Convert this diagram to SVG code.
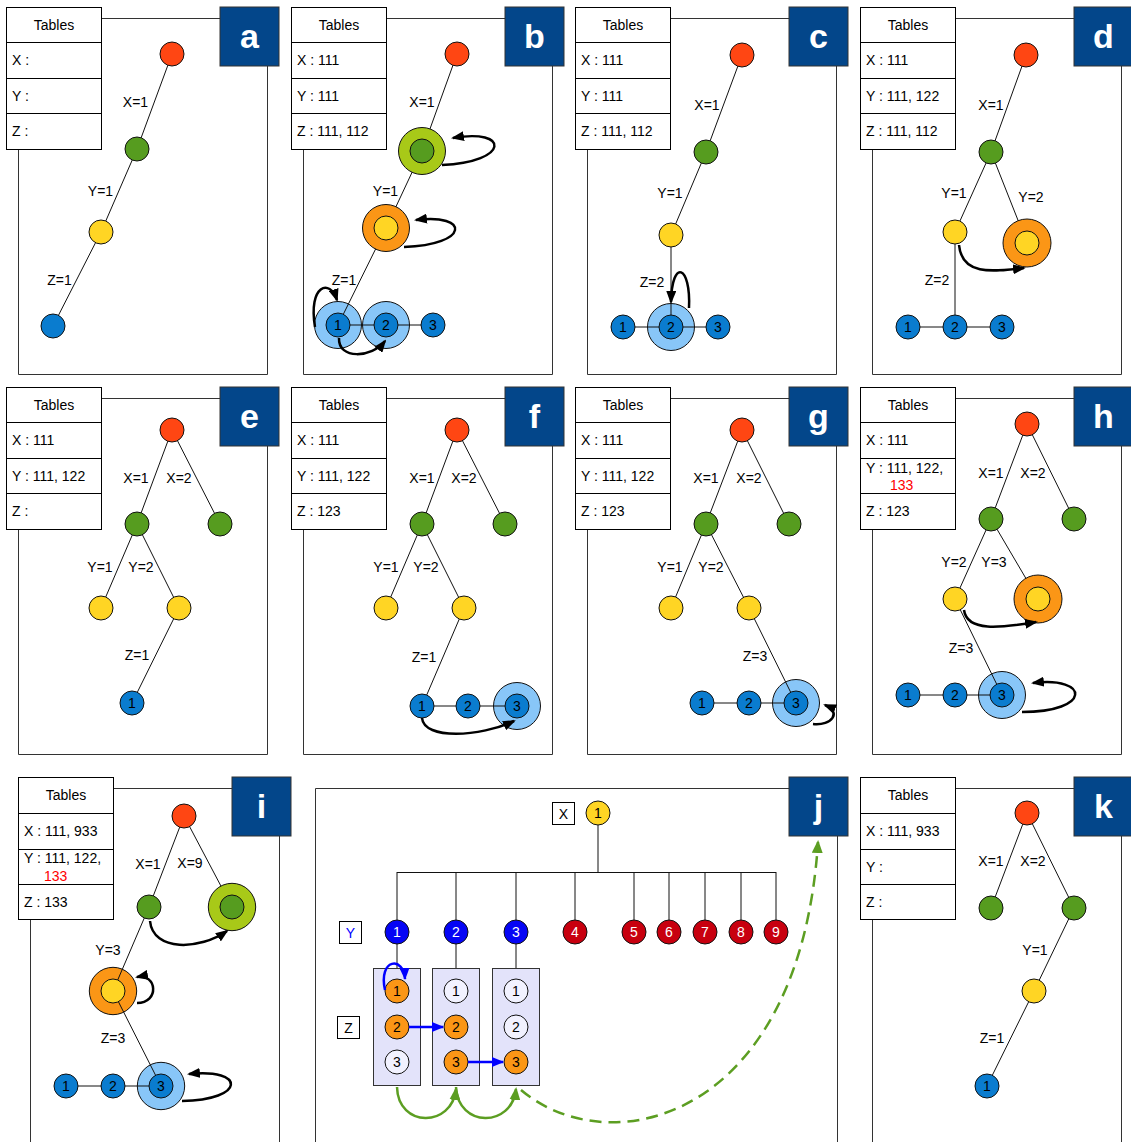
<svg xmlns="http://www.w3.org/2000/svg" width="1131" height="1142" viewBox="0 0 1131 1142">
<defs>
<style>
text{font-family:"Liberation Sans",Arial,sans-serif;font-size:14px;fill:#000}
.c{text-anchor:middle}
.fr{fill:none;stroke:#333;stroke-width:1}
.tb{fill:#fff;stroke:#000;stroke-width:1}
.tl{fill:none;stroke:#000;stroke-width:1}
.lb{fill:#03468a;stroke:#333;stroke-width:1}
.lt{fill:#fff;font-size:34px;font-weight:bold;text-anchor:middle}
.e{fill:none;stroke:#111;stroke-width:1}
.n{stroke:#111;stroke-width:1}
.red{fill:#ff4613}
.grn{fill:#569c1f}
.yel{fill:#ffd524}
.blu{fill:#0a7ccf}
.hb{fill:#88c6f8}
.ho{fill:#fb9616}
.hg{fill:#a8c918}
.wh{fill:#f2f2ff}
.yb{fill:#0505f5}
.yr{fill:#c8000f}
.col{fill:#e3e3fa;stroke:#333;stroke-width:1}
.a{fill:none;stroke:#000;stroke-width:2.5;marker-end:url(#ah)}
.ab{fill:none;stroke:#0000ff;stroke-width:2.5;marker-end:url(#ahb)}
.ag{fill:none;stroke:#5c9e22;stroke-width:2.5;marker-end:url(#ahg)}
.dash{stroke-dasharray:12 7}
.rd{fill:#ff0000}
.bl{fill:#0000ff}
.w{fill:#fff}
</style>
<marker id="ah" viewBox="0 0 13 10" refX="11" refY="5" markerWidth="13" markerHeight="10" markerUnits="userSpaceOnUse" orient="auto"><path d="M0,0L13,5L0,10z" fill="#000"/></marker>
<marker id="ahb" viewBox="0 0 12 10" refX="11" refY="5" markerWidth="12" markerHeight="10" markerUnits="userSpaceOnUse" orient="auto"><path d="M0,0L12,5L0,10z" fill="#0000ff"/></marker>
<marker id="ahg" viewBox="0 0 13 11" refX="11" refY="5.5" markerWidth="13" markerHeight="11" markerUnits="userSpaceOnUse" orient="auto"><path d="M0,0L13,5.5L0,11z" fill="#5c9e22"/></marker>
</defs>
<rect width="1131" height="1142" fill="#fff"/>

<!-- Panel a -->
<g id="panel-a">
 <path class="fr" d="M101 18.5H220M267.5 66V374.5H18.5V149"/>
 <g id="a-label"><rect class="lb" x="220" y="7" width="59" height="59"/><text class="lt" x="249.5" y="48">a</text></g>
 <g id="a-tables"><rect class="tb" x="6.5" y="7.5" width="95" height="142"/><path class="tl" d="M6.5 42.5H101.5M6.5 78.5H101.5M6.5 113.5H101.5"/><text class="c" x="54" y="30">Tables</text><text x="12" y="65">X :</text><text x="12" y="101">Y :</text><text x="12" y="136">Z :</text></g>
 <g id="a-connectors"><path class="e" d="M172 54L137 149M137 149L101 232M101 232L53 326"/><text class="c" x="135.5" y="107">X=1</text><text class="c" x="100.5" y="196">Y=1</text><text class="c" x="59.5" y="285">Z=1</text></g>
 <g id="a-root"><circle class="n red" cx="172" cy="54" r="12"/></g>
 <g id="a-x1"><circle class="n grn" cx="137" cy="149" r="12"/></g>
 <g id="a-y1"><circle class="n yel" cx="101" cy="232" r="12"/></g>
 <g id="a-z1"><circle class="n blu" cx="53" cy="326" r="12"/></g>
</g>

<!-- Panel b -->
<g id="panel-b">
 <path class="fr" d="M386 18.5H505M552.5 66V374.5H303.5V149"/>
 <g id="b-label"><rect class="lb" x="505" y="7" width="59" height="59"/><text class="lt" x="534.5" y="48">b</text></g>
 <g id="b-tables"><rect class="tb" x="291.5" y="7.5" width="95" height="142"/><path class="tl" d="M291.5 42.5H386.5M291.5 78.5H386.5M291.5 113.5H386.5"/><text class="c" x="339" y="30">Tables</text><text x="297" y="65">X : 111</text><text x="297" y="101">Y : 111</text><text x="297" y="136">Z : 111, 112</text></g>
 <g id="b-z1-ring"><circle class="n hb" cx="338" cy="325" r="23.5"/></g>
 <g id="b-z2-ring"><circle class="n hb" cx="386" cy="325" r="23.5"/></g>
 <g id="b-connectors"><path class="e" d="M457 54L422 151M422 151L386 228M386 228L338 325M338 325H433"/><text class="c" x="422" y="107">X=1</text><text class="c" x="385.5" y="196">Y=1</text><text class="c" x="344" y="285">Z=1</text></g>
 <g id="b-root"><circle class="n red" cx="457" cy="54" r="12"/></g>
 <g id="b-x1"><circle class="n hg" cx="422" cy="151" r="23.5"/><circle class="n grn" cx="422" cy="151" r="12"/></g>
 <g id="b-y1"><circle class="n ho" cx="386" cy="228" r="23.5"/><circle class="n yel" cx="386" cy="228" r="12"/></g>
 <g id="b-z1"><circle class="n blu" cx="338" cy="325" r="12"/><text class="c" x="338" y="330">1</text></g>
 <g id="b-z2"><circle class="n blu" cx="386" cy="325" r="12"/><text class="c" x="386" y="330">2</text></g>
 <g id="b-z3"><circle class="n blu" cx="433" cy="325" r="12"/><text class="c" x="433" y="330">3</text></g>
 <g id="b-arrows"><path class="a" d="M442 165C510 162 510 128 453 138"/><path class="a" d="M404 247C470 245 470 213 416 220"/><path class="a" d="M315 327C308 285 330 278 337 300"/><path class="a" d="M339 338C338 360 372 358 385 341"/></g>
</g>

<!-- Panel c -->
<g id="panel-c">
 <path class="fr" d="M670 18.5H789M836.5 66V374.5H587.5V149"/>
 <g id="c-label"><rect class="lb" x="789" y="7" width="59" height="59"/><text class="lt" x="818.5" y="48">c</text></g>
 <g id="c-tables"><rect class="tb" x="575.5" y="7.5" width="95" height="142"/><path class="tl" d="M575.5 42.5H670.5M575.5 78.5H670.5M575.5 113.5H670.5"/><text class="c" x="623" y="30">Tables</text><text x="581" y="65">X : 111</text><text x="581" y="101">Y : 111</text><text x="581" y="136">Z : 111, 112</text></g>
 <g id="c-z2-ring"><circle class="n hb" cx="671" cy="327" r="23.5"/></g>
 <g id="c-connectors"><path class="e" d="M742 55L706 152M706 152L671 235M671 235V327M623 327H718"/><text class="c" x="707" y="110">X=1</text><text class="c" x="670" y="198">Y=1</text><text class="c" x="652" y="287">Z=2</text></g>
 <g id="c-root"><circle class="n red" cx="742" cy="55" r="12"/></g>
 <g id="c-x1"><circle class="n grn" cx="706" cy="152" r="12"/></g>
 <g id="c-y1"><circle class="n yel" cx="671" cy="235" r="12"/></g>
 <g id="c-z1"><circle class="n blu" cx="623" cy="327" r="12"/><text class="c" x="623" y="332">1</text></g>
 <g id="c-z2"><circle class="n blu" cx="671" cy="327" r="12"/><text class="c" x="671" y="332">2</text></g>
 <g id="c-z3"><circle class="n blu" cx="718" cy="327" r="12"/><text class="c" x="718" y="332">3</text></g>
 <g id="c-arrows"><path class="a" d="M689 308C691 265 672 258 671 302"/></g>
</g>

<!-- Panel d -->
<g id="panel-d">
 <path class="fr" d="M955 18.5H1074M1121.5 66V374.5H872.5V149"/>
 <g id="d-label"><rect class="lb" x="1074" y="7" width="59" height="59"/><text class="lt" x="1103.5" y="48">d</text></g>
 <g id="d-tables"><rect class="tb" x="860.5" y="7.5" width="95" height="142"/><path class="tl" d="M860.5 42.5H955.5M860.5 78.5H955.5M860.5 113.5H955.5"/><text class="c" x="908" y="30">Tables</text><text x="866" y="65">X : 111</text><text x="866" y="101">Y : 111, 122</text><text x="866" y="136">Z : 111, 112</text></g>
 <g id="d-connectors"><path class="e" d="M1026 55L991 152M991 152L955 232M991 152L1027 243M955 232V327M908 327H1002"/><text class="c" x="991" y="110">X=1</text><text class="c" x="954" y="198">Y=1</text><text class="c" x="1031" y="202">Y=2</text><text class="c" x="937" y="285">Z=2</text></g>
 <g id="d-root"><circle class="n red" cx="1026" cy="55" r="12"/></g>
 <g id="d-x1"><circle class="n grn" cx="991" cy="152" r="12"/></g>
 <g id="d-y1"><circle class="n yel" cx="955" cy="232" r="12"/></g>
 <g id="d-y2"><circle class="n ho" cx="1027" cy="243" r="24"/><circle class="n yel" cx="1027" cy="243" r="12"/></g>
 <g id="d-z1"><circle class="n blu" cx="908" cy="327" r="12"/><text class="c" x="908" y="332">1</text></g>
 <g id="d-z2"><circle class="n blu" cx="955" cy="327" r="12"/><text class="c" x="955" y="332">2</text></g>
 <g id="d-z3"><circle class="n blu" cx="1002" cy="327" r="12"/><text class="c" x="1002" y="332">3</text></g>
 <g id="d-arrows"><path class="a" d="M959 245C962 275 990 272 1024 268"/></g>
</g>

<!-- Panel e -->
<g id="panel-e">
 <path class="fr" d="M101 398.5H220M267.5 446V754.5H18.5V529"/>
 <g id="e-label"><rect class="lb" x="220" y="387" width="59" height="59"/><text class="lt" x="249.5" y="428">e</text></g>
 <g id="e-tables"><rect class="tb" x="6.5" y="387.5" width="95" height="142"/><path class="tl" d="M6.5 422.5H101.5M6.5 458.5H101.5M6.5 493.5H101.5"/><text class="c" x="54" y="410">Tables</text><text x="12" y="445">X : 111</text><text x="12" y="481">Y : 111, 122</text><text x="12" y="516">Z :</text></g>
 <g id="e-connectors"><path class="e" d="M172 430L137 524M172 430L220 524M137 524L101 608M137 524L179 608M179 608L132 703"/><text class="c" x="136" y="483">X=1</text><text class="c" x="179" y="483">X=2</text><text class="c" x="100" y="572">Y=1</text><text class="c" x="141" y="572">Y=2</text><text class="c" x="137" y="660">Z=1</text></g>
 <g id="e-root"><circle class="n red" cx="172" cy="430" r="12"/></g>
 <g id="e-x1"><circle class="n grn" cx="137" cy="524" r="12"/></g>
 <g id="e-x2"><circle class="n grn" cx="220" cy="524" r="12"/></g>
 <g id="e-y1"><circle class="n yel" cx="101" cy="608" r="12"/></g>
 <g id="e-y2"><circle class="n yel" cx="179" cy="608" r="12"/></g>
 <g id="e-z1"><circle class="n blu" cx="132" cy="703" r="12"/><text class="c" x="132" y="708">1</text></g>
</g>

<!-- Panel f -->
<g id="panel-f">
 <path class="fr" d="M386 398.5H505M552.5 446V754.5H303.5V529"/>
 <g id="f-label"><rect class="lb" x="505" y="387" width="59" height="59"/><text class="lt" x="534.5" y="428">f</text></g>
 <g id="f-tables"><rect class="tb" x="291.5" y="387.5" width="95" height="142"/><path class="tl" d="M291.5 422.5H386.5M291.5 458.5H386.5M291.5 493.5H386.5"/><text class="c" x="339" y="410">Tables</text><text x="297" y="445">X : 111</text><text x="297" y="481">Y : 111, 122</text><text x="297" y="516">Z : 123</text></g>
 <g id="f-z3-ring"><circle class="n hb" cx="517" cy="706" r="23.5"/></g>
 <g id="f-connectors"><path class="e" d="M457 430L422 524M457 430L505 524M422 524L386 608M422 524L464 608M464 608L422 706M422 706H517"/><text class="c" x="422" y="483">X=1</text><text class="c" x="464" y="483">X=2</text><text class="c" x="386" y="572">Y=1</text><text class="c" x="426" y="572">Y=2</text><text class="c" x="424" y="662">Z=1</text></g>
 <g id="f-root"><circle class="n red" cx="457" cy="430" r="12"/></g>
 <g id="f-x1"><circle class="n grn" cx="422" cy="524" r="12"/></g>
 <g id="f-x2"><circle class="n grn" cx="505" cy="524" r="12"/></g>
 <g id="f-y1"><circle class="n yel" cx="386" cy="608" r="12"/></g>
 <g id="f-y2"><circle class="n yel" cx="464" cy="608" r="12"/></g>
 <g id="f-z1"><circle class="n blu" cx="422" cy="706" r="12"/><text class="c" x="422" y="711">1</text></g>
 <g id="f-z2"><circle class="n blu" cx="468" cy="706" r="12"/><text class="c" x="468" y="711">2</text></g>
 <g id="f-z3"><circle class="n blu" cx="517" cy="706" r="12"/><text class="c" x="517" y="711">3</text></g>
 <g id="f-arrows"><path class="a" d="M422 718C424 740 480 737 514 721"/></g>
</g>

<!-- Panel g -->
<g id="panel-g">
 <path class="fr" d="M670 398.5H789M836.5 446V754.5H587.5V529"/>
 <g id="g-label"><rect class="lb" x="789" y="387" width="59" height="59"/><text class="lt" x="818.5" y="428">g</text></g>
 <g id="g-tables"><rect class="tb" x="575.5" y="387.5" width="95" height="142"/><path class="tl" d="M575.5 422.5H670.5M575.5 458.5H670.5M575.5 493.5H670.5"/><text class="c" x="623" y="410">Tables</text><text x="581" y="445">X : 111</text><text x="581" y="481">Y : 111, 122</text><text x="581" y="516">Z : 123</text></g>
 <g id="g-z3-ring"><circle class="n hb" cx="796" cy="703" r="23.5"/></g>
 <g id="g-connectors"><path class="e" d="M742 430L706 524M742 430L789 524M706 524L671 608M706 524L749 608M749 608L796 703M702 703H796"/><text class="c" x="706" y="483">X=1</text><text class="c" x="749" y="483">X=2</text><text class="c" x="670" y="572">Y=1</text><text class="c" x="711" y="572">Y=2</text><text class="c" x="755" y="661">Z=3</text></g>
 <g id="g-root"><circle class="n red" cx="742" cy="430" r="12"/></g>
 <g id="g-x1"><circle class="n grn" cx="706" cy="524" r="12"/></g>
 <g id="g-x2"><circle class="n grn" cx="789" cy="524" r="12"/></g>
 <g id="g-y1"><circle class="n yel" cx="671" cy="608" r="12"/></g>
 <g id="g-y2"><circle class="n yel" cx="749" cy="608" r="12"/></g>
 <g id="g-z1"><circle class="n blu" cx="702" cy="703" r="12"/><text class="c" x="702" y="708">1</text></g>
 <g id="g-z2"><circle class="n blu" cx="749" cy="703" r="12"/><text class="c" x="749" y="708">2</text></g>
 <g id="g-z3"><circle class="n blu" cx="796" cy="703" r="12"/><text class="c" x="796" y="708">3</text></g>
 <g id="g-arrows"><path class="a" d="M813 724C832 726 842 712 825 705"/></g>
</g>

<!-- Panel h -->
<g id="panel-h">
 <path class="fr" d="M955 398.5H1074M1121.5 446V754.5H872.5V529"/>
 <g id="h-label"><rect class="lb" x="1074" y="387" width="59" height="59"/><text class="lt" x="1103.5" y="428">h</text></g>
 <g id="h-tables"><rect class="tb" x="860.5" y="387.5" width="95" height="142"/><path class="tl" d="M860.5 422.5H955.5M860.5 458.5H955.5M860.5 493.5H955.5"/><text class="c" x="908" y="410">Tables</text><text x="866" y="445">X : 111</text><text x="866" y="473">Y : 111, 122,</text><text class="rd" x="890" y="490">133</text><text x="866" y="516">Z : 123</text></g>
 <g id="h-z3-ring"><circle class="n hb" cx="1002" cy="695" r="23.5"/></g>
 <g id="h-connectors"><path class="e" d="M1027 424L991 519M1027 424L1074 519M991 519L955 599M991 519L1038 599M955 599L1002 695M908 695H1002"/><text class="c" x="991" y="478">X=1</text><text class="c" x="1033" y="478">X=2</text><text class="c" x="954" y="567">Y=2</text><text class="c" x="994" y="567">Y=3</text><text class="c" x="961" y="653">Z=3</text></g>
 <g id="h-root"><circle class="n red" cx="1027" cy="424" r="12"/></g>
 <g id="h-x1"><circle class="n grn" cx="991" cy="519" r="12"/></g>
 <g id="h-x2"><circle class="n grn" cx="1074" cy="519" r="12"/></g>
 <g id="h-y2"><circle class="n yel" cx="955" cy="599" r="12"/></g>
 <g id="h-y3"><circle class="n ho" cx="1038" cy="599" r="24"/><circle class="n yel" cx="1038" cy="599" r="12"/></g>
 <g id="h-z1"><circle class="n blu" cx="908" cy="695" r="12"/><text class="c" x="908" y="700">1</text></g>
 <g id="h-z2"><circle class="n blu" cx="955" cy="695" r="12"/><text class="c" x="955" y="700">2</text></g>
 <g id="h-z3"><circle class="n blu" cx="1002" cy="695" r="12"/><text class="c" x="1002" y="700">3</text></g>
 <g id="h-arrows"><path class="a" d="M964 610C967 632 1000 628 1036 622"/><path class="a" d="M1022 712C1092 712 1090 676 1033 683"/></g>
</g>

<!-- Panel i -->
<g id="panel-i">
 <path class="fr" d="M113 788.5H232M279.5 836V1142M30.5 920V1142"/>
 <g id="i-label"><rect class="lb" x="232" y="777" width="59" height="59"/><text class="lt" x="261.5" y="818">i</text></g>
 <g id="i-tables"><rect class="tb" x="18.5" y="777.5" width="95" height="142"/><path class="tl" d="M18.5 813.5H113.5M18.5 849.5H113.5M18.5 884.5H113.5"/><text class="c" x="66" y="800">Tables</text><text x="24" y="836">X : 111, 933</text><text x="24" y="863">Y : 111, 122,</text><text class="rd" x="44" y="881">133</text><text x="24" y="907">Z : 133</text></g>
 <g id="i-y3-ring"><circle class="n ho" cx="113" cy="991" r="23.7"/></g>
 <g id="i-z3-ring"><circle class="n hb" cx="161" cy="1086" r="23.7"/></g>
 <g id="i-connectors"><path class="e" d="M184 816L149 907M184 816L232 907M149 907L113 991M113 991L161 1086M66 1086H161"/><text class="c" x="148" y="869">X=1</text><text class="c" x="190" y="868">X=9</text><text class="c" x="108" y="955">Y=3</text><text class="c" x="113" y="1043">Z=3</text></g>
 <g id="i-root"><circle class="n red" cx="184" cy="816" r="12"/></g>
 <g id="i-x1"><circle class="n grn" cx="149" cy="907" r="12"/></g>
 <g id="i-x9"><circle class="n hg" cx="232" cy="907" r="23.7"/><circle class="n grn" cx="232" cy="907" r="12"/></g>
 <g id="i-y3"><circle class="n yel" cx="113" cy="991" r="12"/></g>
 <g id="i-z1"><circle class="n blu" cx="66" cy="1086" r="12"/><text class="c" x="66" y="1091">1</text></g>
 <g id="i-z2"><circle class="n blu" cx="113" cy="1086" r="12"/><text class="c" x="113" y="1091">2</text></g>
 <g id="i-z3"><circle class="n blu" cx="161" cy="1086" r="12"/><text class="c" x="161" y="1091">3</text></g>
 <g id="i-arrows"><path class="a" d="M150 921C153 952 200 950 227 931"/><path class="a" d="M137 1003C160 1003 157 973 137 977"/><path class="a" d="M182 1101C246 1100 246 1068 189 1074"/></g>
</g>

<!-- Panel j -->
<g id="panel-j">
 <path class="fr" d="M315.5 1142V788.5H789M837.5 836V1142"/>
 <g id="j-label"><rect class="lb" x="789" y="777" width="59" height="59"/><text class="lt" x="818.5" y="818">j</text></g>
 <g id="j-xkey"><rect class="tb" x="552.5" y="802.5" width="22" height="22"/><text class="c" x="563.5" y="819">X</text></g>
 <g id="j-ykey"><rect class="tb" x="339.5" y="921.5" width="22" height="22"/><text class="c bl" x="350.5" y="938">Y</text></g>
 <g id="j-zkey"><rect class="tb" x="337.5" y="1016.5" width="22" height="22"/><text class="c" x="348.5" y="1033">Z</text></g>
 <g id="j-col1"><rect class="col" x="373.5" y="968.5" width="47" height="117"/></g>
 <g id="j-col2"><rect class="col" x="432.5" y="968.5" width="47" height="117"/></g>
 <g id="j-col3"><rect class="col" x="492.5" y="968.5" width="47" height="117"/></g>
 <g id="j-connectors"><path class="e" d="M598 825V872.5M397 872.5H776M397 872V920M456 872V920M516 872V920M575 872V920M634 872V920M669 872V920M705 872V920M741 872V920M776 872V920M397 944V968M456 944V968M516 944V968"/></g>
 <g id="j-x1"><circle class="n yel" cx="598" cy="813" r="12"/><text class="c" x="598" y="818">1</text></g>
 <g id="j-y1"><circle class="n yb" cx="397" cy="932" r="12"/><text class="c w" x="397" y="937">1</text></g>
 <g id="j-y2"><circle class="n yb" cx="456" cy="932" r="12"/><text class="c w" x="456" y="937">2</text></g>
 <g id="j-y3"><circle class="n yb" cx="516" cy="932" r="12"/><text class="c w" x="516" y="937">3</text></g>
 <g id="j-y4"><circle class="n yr" cx="575" cy="932" r="12"/><text class="c w" x="575" y="937">4</text></g>
 <g id="j-y5"><circle class="n yr" cx="634" cy="932" r="12"/><text class="c w" x="634" y="937">5</text></g>
 <g id="j-y6"><circle class="n yr" cx="669" cy="932" r="12"/><text class="c w" x="669" y="937">6</text></g>
 <g id="j-y7"><circle class="n yr" cx="705" cy="932" r="12"/><text class="c w" x="705" y="937">7</text></g>
 <g id="j-y8"><circle class="n yr" cx="741" cy="932" r="12"/><text class="c w" x="741" y="937">8</text></g>
 <g id="j-y9"><circle class="n yr" cx="776" cy="932" r="12"/><text class="c w" x="776" y="937">9</text></g>
 <g id="j-c1z1"><circle class="n ho" cx="397" cy="991" r="12"/><text class="c" x="397" y="996">1</text></g>
 <g id="j-c1z2"><circle class="n ho" cx="397" cy="1027" r="12"/><text class="c" x="397" y="1032">2</text></g>
 <g id="j-c1z3"><circle class="n wh" cx="397" cy="1062" r="12"/><text class="c" x="397" y="1067">3</text></g>
 <g id="j-c2z1"><circle class="n wh" cx="456" cy="991" r="12"/><text class="c" x="456" y="996">1</text></g>
 <g id="j-c2z2"><circle class="n ho" cx="456" cy="1027" r="12"/><text class="c" x="456" y="1032">2</text></g>
 <g id="j-c2z3"><circle class="n ho" cx="456" cy="1062" r="12"/><text class="c" x="456" y="1067">3</text></g>
 <g id="j-c3z1"><circle class="n wh" cx="516" cy="991" r="12"/><text class="c" x="516" y="996">1</text></g>
 <g id="j-c3z2"><circle class="n wh" cx="516" cy="1027" r="12"/><text class="c" x="516" y="1032">2</text></g>
 <g id="j-c3z3"><circle class="n ho" cx="516" cy="1062" r="12"/><text class="c" x="516" y="1067">3</text></g>
 <g id="j-arrows">
  <path class="ab" d="M385 990C378 958 404 956 405 979"/>
  <path class="ab" d="M409 1027H443"/>
  <path class="ab" d="M468 1062H503"/>
  <path class="ag" d="M397 1087C398 1128 452 1128 456 1089"/>
  <path class="ag" d="M456 1087C458 1128 512 1128 516 1089"/>
  <path class="ag dash" d="M521 1090C610 1165 800 1120 818 842"/>
 </g>
</g>

<!-- Panel k -->
<g id="panel-k">
 <path class="fr" d="M955 788.5H1074M1121.5 836V1142M872.5 920V1142"/>
 <g id="k-label"><rect class="lb" x="1074" y="777" width="59" height="59"/><text class="lt" x="1103.5" y="818">k</text></g>
 <g id="k-tables"><rect class="tb" x="860.5" y="777.5" width="95" height="142"/><path class="tl" d="M860.5 813.5H955.5M860.5 849.5H955.5M860.5 884.5H955.5"/><text class="c" x="908" y="800">Tables</text><text x="866" y="836">X : 111, 933</text><text x="866" y="872">Y :</text><text x="866" y="907">Z :</text></g>
 <g id="k-connectors"><path class="e" d="M1027 813L991 908M1027 813L1074 908M1074 908L1034 991M1034 991L987 1086"/><text class="c" x="991" y="866">X=1</text><text class="c" x="1033" y="866">X=2</text><text class="c" x="1035" y="955">Y=1</text><text class="c" x="992" y="1043">Z=1</text></g>
 <g id="k-root"><circle class="n red" cx="1027" cy="813" r="12"/></g>
 <g id="k-x1"><circle class="n grn" cx="991" cy="908" r="12"/></g>
 <g id="k-x2"><circle class="n grn" cx="1074" cy="908" r="12"/></g>
 <g id="k-y1"><circle class="n yel" cx="1034" cy="991" r="12"/></g>
 <g id="k-z1"><circle class="n blu" cx="987" cy="1086" r="12"/><text class="c" x="987" y="1091">1</text></g>
</g>
</svg>
